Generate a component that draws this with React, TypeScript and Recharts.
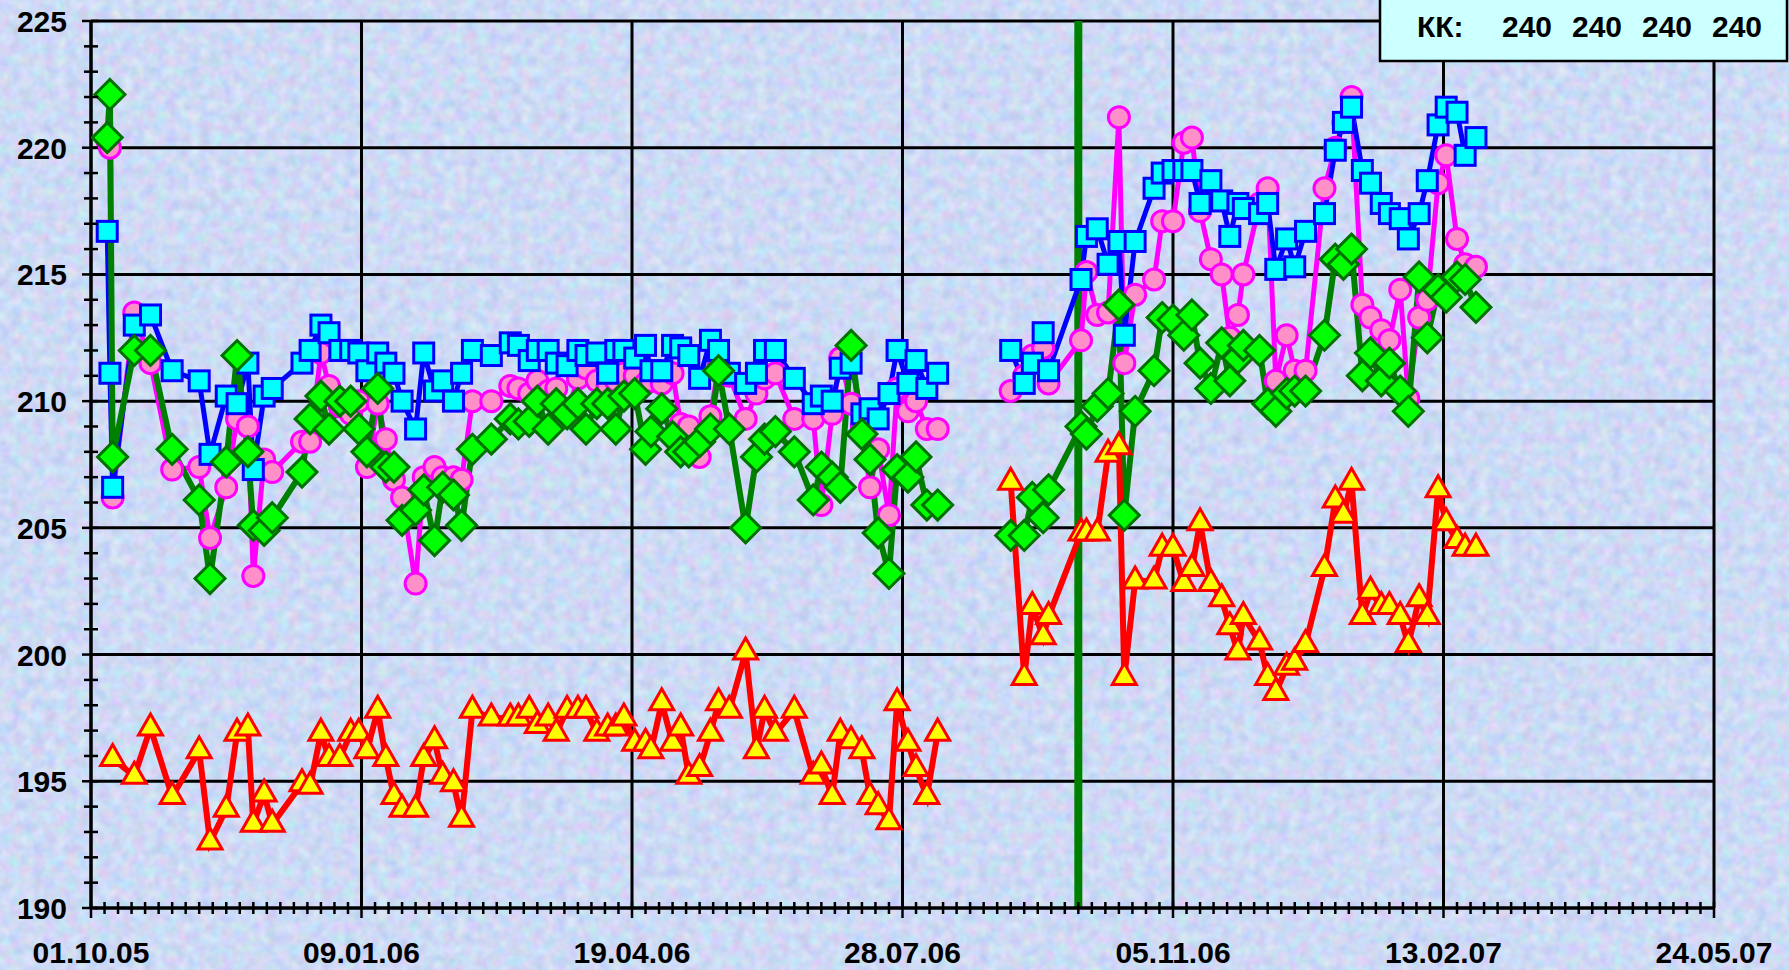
import React from 'react';
import { LineChart, Line, XAxis, YAxis, ReferenceLine } from 'recharts';

// measurement dates, as days after 01.10.05
const days = [
  6, 7, 8, 16, 22, 30, 40, 44, 50, 54, 58, 60, 64, 67, 78, 81, 85, 88, 92, 96,
  99, 102, 106, 109, 112, 115, 120, 123, 127, 130, 134, 137, 141, 148, 155, 158, 162, 165, 169, 172,
  176, 180, 183, 187, 191, 194, 197, 201, 205, 207, 211, 215, 218, 221, 225, 229, 232, 236, 242, 246,
  249, 253, 260, 267, 270, 274, 277, 281, 285, 288, 291, 295, 298, 302, 305, 309, 313, 326,
  340, 345, 348, 352, 354, 366, 368, 372, 376, 380, 382, 386, 393, 396, 400, 404, 407, 410,
  414, 418, 421, 424, 426, 432, 435, 438, 442, 445, 449, 456, 460, 463, 466, 470, 473, 477,
  480, 484, 487, 491, 494, 498, 501, 505, 508, 512,
];

const blue = [
  216.7, 211.1, 206.6, 213.0, 213.4, 211.2, 210.8, 207.9, 210.2, 209.9, 211.5, 207.3, 210.2, 210.5, 211.5, 212.0, 213.0, 212.7, 212.0, 212.0,
  211.9, 211.2, 211.9, 211.5, 211.1, 210.0, 208.9, 211.9, 210.4, 210.8, 210.0, 211.1, 212.0, 211.8, 212.3, 212.2, 211.6, 212.0, 212.0, 211.5,
  211.4, 212.0, 211.8, 211.9, 211.1, 212.0, 212.0, 211.7, 212.2, 211.2, 211.2, 212.2, 212.1, 211.8, 210.9, 212.4, 212.0, 211.1, 210.7, 211.1,
  212.0, 212.0, 210.9, 209.9, 210.2, 210.0, 211.3, 211.5, 209.5, 209.7, 209.3, 210.3, 212.0, 210.7, 211.6, 210.5, 211.1, null,
  212.0, 210.7, 211.5, 212.7, 211.2, 214.8, 216.5, 216.8, 215.4, 216.3, 212.6, 216.3, 218.4, 219.0, 219.1, 219.1, 219.1, 217.8,
  218.7, 217.9, 216.5, 217.8, 217.6, 217.4, 217.8, 215.2, 216.4, 215.3, 216.7, 217.4, 219.9, 221.0, 221.6, 219.1, 218.6, 217.8,
  217.4, 217.2, 216.4, 217.4, 218.7, 220.9, 221.6, 221.4, 219.7, 220.4,
];

const pink = [
  220.3, 220.0, 206.2, 213.5, 211.5, 207.3, 207.4, 204.6, 206.6, 209.3, 209.0, 203.1, 207.7, 207.2, 208.4, 208.4, 211.9, 210.6, 209.8, 209.5,
  210.0, 207.4, 209.9, 208.5, 206.9, 206.2, 202.8, 207.0, 207.4, 207.0, 207.0, 206.9, 210.0, 210.0, 210.6, 210.5, 210.3, 210.8, 210.4, 210.5,
  209.5, 210.9, 211.3, 210.8, 210.6, 210.8, 211.1, 211.0, 210.7, 210.8, 210.7, 211.1, 209.1, 209.0, 207.8, 209.4, 211.4, 211.0, 209.3, 210.3,
  210.9, 211.1, 209.3, 209.3, 205.9, 209.5, 211.7, 209.9, 209.0, 206.6, 208.1, 205.5, 210.5, 209.6, 210.0, 208.9, 208.9, null,
  210.4, 211.0, 211.8, 212.1, 210.7, 212.4, 215.1, 213.4, 213.5, 221.2, 211.5, 214.2, 214.8, 217.1, 217.1, 220.2, 220.4, 217.5,
  215.6, 215.0, 212.5, 213.4, 215.0, 217.8, 218.4, 210.8, 212.6, 211.2, 211.2, 218.4, 220.0, 221.0, 222.0, 213.8, 213.3, 212.8,
  212.4, 214.4, 210.1, 213.3, 214.0, 218.6, 219.7, 216.4, 215.4, 215.3,
];

const green = [
  220.4, 222.1, 207.8, 212.0, 212.0, 208.1, 206.1, 203.0, 207.6, 211.8, 208.0, 205.1, 204.9, 205.4, 207.2, 209.3, 210.2, 208.9, 210.0, 210.0,
  208.9, 208.0, 210.5, 207.4, 207.4, 205.3, 205.7, 206.5, 204.5, 206.6, 206.3, 205.1, 208.1, 208.5, 209.3, 209.1, 209.2, 210.0, 208.9, 209.9,
  209.5, 209.9, 208.9, 209.9, 209.9, 208.9, 210.2, 210.3, 208.1, 208.8, 209.7, 208.6, 208.0, 208.0, 208.4, 208.9, 211.2, 208.9, 205.0, 207.8,
  208.5, 208.8, 208.0, 206.1, 207.4, 207.0, 206.6, 212.2, 208.7, 207.7, 204.8, 203.2, 207.3, 207.0, 207.8, 205.9, 205.9, null,
  204.7, 204.7, 206.2, 205.4, 206.5, 209.0, 208.7, 209.8, 210.3, 213.8, 205.5, 209.6, 211.2, 213.3, 213.2, 212.6, 213.4, 211.5,
  210.5, 212.3, 210.8, 211.7, 212.2, 212.0, 209.9, 209.6, 210.3, 210.4, 210.4, 212.6, 215.6, 215.4, 216.0, 211.0, 211.9, 210.8,
  211.5, 210.4, 209.6, 214.9, 212.5, 214.4, 214.1, 214.9, 214.8, 213.7,
];

const red = [
  null, null, 195.9, 195.2, 197.1, 194.4, 196.2, 192.6, 193.9, 196.9, 197.1, 193.3, 194.5, 193.3, 194.9, 194.8, 196.9, 195.9, 195.9, 196.9,
  196.9, 196.2, 197.8, 195.9, 194.4, 193.9, 193.9, 195.9, 196.6, 195.2, 194.9, 193.5, 197.8, 197.5, 197.5, 197.5, 197.8, 197.2, 197.5, 196.9,
  197.8, 197.8, 197.8, 196.9, 197.1, 197.1, 197.5, 196.5, 196.5, 196.2, 198.1, 196.5, 197.1, 195.2, 195.5, 196.9, 198.1, 197.8, 200.1, 196.2,
  197.8, 196.9, 197.8, 195.2, 195.6, 194.4, 196.9, 196.6, 196.2, 194.4, 194.0, 193.4, 198.1, 196.5, 195.5, 194.4, 196.9, null,
  206.8, 199.1, 201.9, 200.7, 201.5, 204.8, 204.8, 204.8, 207.9, 208.2, 199.1, 202.9, 202.9, 204.2, 204.2, 202.8, 203.4, 205.2,
  202.8, 202.2, 201.1, 200.1, 201.5, 200.5, 199.1, 198.5, 199.5, 199.7, 200.4, 203.4, 206.1, 205.5, 206.8, 201.5, 202.5, 201.9,
  201.9, 201.5, 200.4, 202.2, 201.5, 206.5, 205.2, 204.5, 204.2, 204.2,
];

const xMajorTicks = [0, 100, 200, 300, 400, 500, 600];
const xTickLabels = ['01.10.05', '09.01.06', '19.04.06', '28.07.06', '05.11.06', '13.02.07', '24.05.07'];
const yMajorTicks = [190, 195, 200, 205, 210, 215, 220, 225];
const markerDay = 365; // 01.10.06

const legendLabel = 'КК:';
const legendValues = [240, 240, 240, 240];

const xTicks = Array.from({ length: 121 }, (_, i) => i * 5);
const yTicks = Array.from({ length: 36 }, (_, i) => 190 + i);

const rows = days.map((day, i) => ({
  day,
  blue: blue[i],
  pink: pink[i],
  green: green[i],
  red: red[i],
}));

const FONT = '"Liberation Sans", Arial, sans-serif';

const XTick = (props: any) => {
  const { x, y, payload } = props;
  const idx = xMajorTicks.indexOf(payload.value);
  const major = idx >= 0;
  return (
    <g>
      <line x1={x} x2={x} y1={y - 6} y2={y + (major ? 10 : 6)} stroke="#000" strokeWidth={2.5} />
      {major && (
        <text x={x} y={y + 55} textAnchor="middle" fontFamily={FONT} fontWeight="bold" fontSize={30} fill="#000">
          {xTickLabels[idx]}
        </text>
      )}
    </g>
  );
};

const YTick = (props: any) => {
  const { x, y, payload } = props;
  const major = yMajorTicks.includes(payload.value);
  return (
    <g>
      <line x1={major ? x - 9 : x - 7} x2={x + 7} y1={y} y2={y} stroke="#000" strokeWidth={2.5} />
      {major && (
        <text x={x - 24} y={y + 11} textAnchor="end" fontFamily={FONT} fontWeight="bold" fontSize={30} fill="#000">
          {payload.value}
        </text>
      )}
    </g>
  );
};

const ok = (p: any) => p.value != null && Number.isFinite(p.cx) && Number.isFinite(p.cy);

const SquareDot = (p: any) =>
  ok(p) ? (
    <rect key={`b${p.index}`} x={p.cx - 10} y={p.cy - 10} width={20} height={20} fill="#00ffff" stroke="#0000ff" strokeWidth={3} />
  ) : (
    <g key={`b${p.index}`} />
  );

const CircleDot = (p: any) =>
  ok(p) ? (
    <circle key={`p${p.index}`} cx={p.cx} cy={p.cy} r={10.5} fill="#ff8fc8" stroke="#ff00ff" strokeWidth={3} />
  ) : (
    <g key={`p${p.index}`} />
  );

const DiamondDot = (p: any) =>
  ok(p) ? (
    <polygon
      key={`g${p.index}`}
      points={`${p.cx},${p.cy - 15} ${p.cx + 15},${p.cy} ${p.cx},${p.cy + 15} ${p.cx - 15},${p.cy}`}
      fill="#00ff00"
      stroke="#007000"
      strokeWidth={3}
    />
  ) : (
    <g key={`g${p.index}`} />
  );

const TriangleDot = (p: any) =>
  ok(p) ? (
    <polygon
      key={`r${p.index}`}
      points={`${p.cx},${p.cy - 14} ${p.cx + 12},${p.cy + 7} ${p.cx - 12},${p.cy + 7}`}
      fill="#ffff00"
      stroke="#ff0000"
      strokeWidth={3}
      strokeLinejoin="miter"
    />
  ) : (
    <g key={`r${p.index}`} />
  );

export default function App() {
  return (
    <div
      style={{
        position: 'fixed',
        left: 0,
        top: 0,
        width: 1789,
        height: 970,
        overflow: 'hidden',
        background: '#cddaf5',
        fontFamily: FONT,
      }}
    >
      <svg width={1789} height={970} style={{ position: 'absolute', left: 0, top: 0 }}>
        <filter id="paper" x="0" y="0" width="100%" height="100%" colorInterpolationFilters="sRGB">
          <feTurbulence type="fractalNoise" baseFrequency="0.09" numOctaves={2} seed={7} result="n" />
          <feColorMatrix
            in="n"
            type="matrix"
            values="0.25 0 0 0 0.68  0 0.2 0 0 0.755  0 0 0.12 0 0.9  0 0 0 0 1"
          />
        </filter>
        <rect x={0} y={0} width={1789} height={970} filter="url(#paper)" />
      </svg>
      <div style={{ position: 'absolute', left: 0, top: 0 }}>
        <LineChart width={1789} height={970} data={rows} margin={{ top: 21, right: 75, bottom: 0, left: 0 }}>
          <XAxis
            dataKey="day"
            type="number"
            domain={[0, 600]}
            ticks={xTicks}
            interval={0}
            tick={<XTick />}
            tickLine={false}
            tickSize={0}
            tickMargin={0}
            height={62}
            axisLine={{ stroke: '#000', strokeWidth: 3.5 }}
            allowDataOverflow
          />
          <YAxis
            type="number"
            domain={[190, 225]}
            ticks={yTicks}
            interval={0}
            tick={<YTick />}
            tickLine={false}
            tickSize={0}
            tickMargin={0}
            width={91}
            axisLine={{ stroke: '#000', strokeWidth: 3.5 }}
            allowDataOverflow
          />
          {yMajorTicks.slice(1).map((v) => (
            <ReferenceLine key={`hy${v}`} y={v} stroke="#000" strokeWidth={3} />
          ))}
          {xMajorTicks.slice(1).map((v) => (
            <ReferenceLine key={`vx${v}`} x={v} stroke="#000" strokeWidth={3} />
          ))}
          <ReferenceLine x={markerDay} stroke="#008000" strokeWidth={8} />
          <Line
            dataKey="pink"
            type="linear"
            stroke="#ff00ff"
            strokeWidth={5}
            dot={CircleDot}
            activeDot={false}
            connectNulls={false}
            isAnimationActive={false}
          />
          <Line
            dataKey="blue"
            type="linear"
            stroke="#0000ff"
            strokeWidth={5}
            dot={SquareDot}
            activeDot={false}
            connectNulls={false}
            isAnimationActive={false}
          />
          <Line
            dataKey="green"
            type="linear"
            stroke="#008000"
            strokeWidth={6}
            dot={DiamondDot}
            activeDot={false}
            connectNulls={false}
            isAnimationActive={false}
          />
          <Line
            dataKey="red"
            type="linear"
            stroke="#ff0000"
            strokeWidth={6}
            dot={TriangleDot}
            activeDot={false}
            connectNulls={false}
            isAnimationActive={false}
          />
        </LineChart>
      </div>
      <svg width={1789} height={970} style={{ position: 'absolute', left: 0, top: 0, pointerEvents: 'none' }}>
        <rect x={1380} y={-4} width={407} height={65} fill="#ccffff" stroke="#000" strokeWidth={2.5} />
        <text x={1417} y={37} fontFamily={FONT} fontWeight="bold" fontSize={30} fill="#000">
          {legendLabel}
        </text>
        {legendValues.map((v, i) => (
          <text key={i} x={1502 + i * 70} y={37} fontFamily={FONT} fontWeight="bold" fontSize={30} fill="#000">
            {v}
          </text>
        ))}
      </svg>
    </div>
  );
}
